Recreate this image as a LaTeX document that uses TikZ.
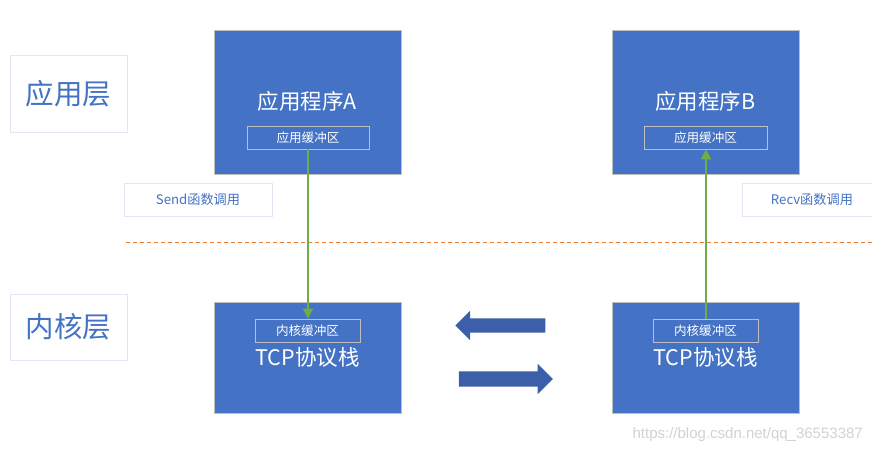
\documentclass[tikz,border=0pt]{standalone}
\usepackage{fontspec}
\setmainfont{Noto Sans CJK SC}
\newfontfamily\wmfont{Liberation Sans}
\usetikzlibrary{shapes.arrows,arrows.meta}
\definecolor{mblue}{HTML}{4472C4}
\definecolor{dblue}{HTML}{3B5FA8}
\definecolor{mgray}{HTML}{BFBFBF}
\definecolor{lframe}{HTML}{E1E6F4}
\definecolor{mgreen}{HTML}{70AD47}
\definecolor{morange}{HTML}{ED7D31}
\tikzset{
  bigbox/.style={draw=mgray, line width=0.8pt, fill=mblue, text=white, minimum width=187pt, minimum height=#1, inner sep=0pt},
  bufbox/.style={draw=mgray, line width=0.8pt, text=white, font=\fontsize{12.6}{12.6}\selectfont, minimum height=23pt, inner sep=0pt},
  layerbox/.style={draw=lframe, line width=0.8pt, text=mblue, font=\fontsize{28.5}{28.5}\selectfont, minimum width=117pt, inner sep=0pt},
  callbox/.style={draw=lframe, line width=0.8pt, text=mblue, font=\fontsize{13.2}{13.2}\selectfont, minimum height=33pt, inner sep=0pt},
  title/.style={text=white, font=\fontsize{21.5}{21.5}\selectfont, inner sep=0pt},
  greenarrow/.style={draw=mgreen, line width=1.8pt, -{Triangle[length=10pt,width=10pt]}},
  blockarrow/.style={single arrow, fill=dblue, draw=none, minimum width=29pt, single arrow head extend=7.5pt, single arrow head indent=0pt, inner sep=0pt},
}
\begin{document}
\begin{tikzpicture}[x=1pt,y=-1pt]
\useasboundingbox (0,0) rectangle (872,453);
% layer labels
\node[layerbox, minimum height=77pt] (lapp) at (68.5,93.5) {应用层};
\node[layerbox, minimum height=66pt] (lker) at (68.5,327) {内核层};
% application boxes
\node[bigbox=144pt] (appA) at (307.5,102) {};
\node[bigbox=144pt] (appB) at (705.5,102) {};
\node[title] (tA) at (307.5,101) {应用程序A};
\node[title] (tB) at (705.5,101) {应用程序B};
\node[bufbox, minimum width=122pt] (abA) at (308,137.5) {应用缓冲区};
\node[bufbox, minimum width=123pt] (abB) at (705.5,137.5) {应用缓冲区};
% kernel boxes
\node[bigbox=111pt] (kA) at (307.5,357.5) {};
\node[bigbox=111pt] (kB) at (705.5,357.5) {};
\node[bufbox, minimum width=105pt] (kbA) at (307.5,330.5) {内核缓冲区};
\node[bufbox, minimum width=105pt] (kbB) at (705.5,330.5) {内核缓冲区};
\node[title] (sA) at (307.5,357) {TCP协议栈};
\node[title] (sB) at (705.5,357) {TCP协议栈};
% call labels
\node[callbox, minimum width=148pt] (send) at (198,199.5) {Send函数调用};
\node[callbox, minimum width=140pt] (recv) at (812,199.5) {Recv函数调用};
% dashed separator
\coordinate (d1) at (126,242);
\coordinate (d2) at (872,242);
\draw[morange, line width=1pt, dash pattern=on 4pt off 3pt] (d1) -- (d2);
% green arrows
\draw[greenarrow] (abA.south -| 308,0) -- (kbA.north -| 308,0);
\draw[greenarrow] (kbB.north -| 706,0) -- (abB.south -| 706,0);
% block arrows
\node[blockarrow, minimum height=90pt, shape border rotate=180] (la) at (504,325.5) {\rule{0pt}{14pt}};
\node[blockarrow, minimum height=94pt] (ra) at (502,379) {\rule{0pt}{15pt}};
% watermark
\node[text=mgray!70, font=\wmfont\fontsize{15}{15}\selectfont, anchor=east, inner sep=0pt] (wm) at (863,435) {https://blog.csdn.net/qq\_36553387};
\end{tikzpicture}
\end{document}
